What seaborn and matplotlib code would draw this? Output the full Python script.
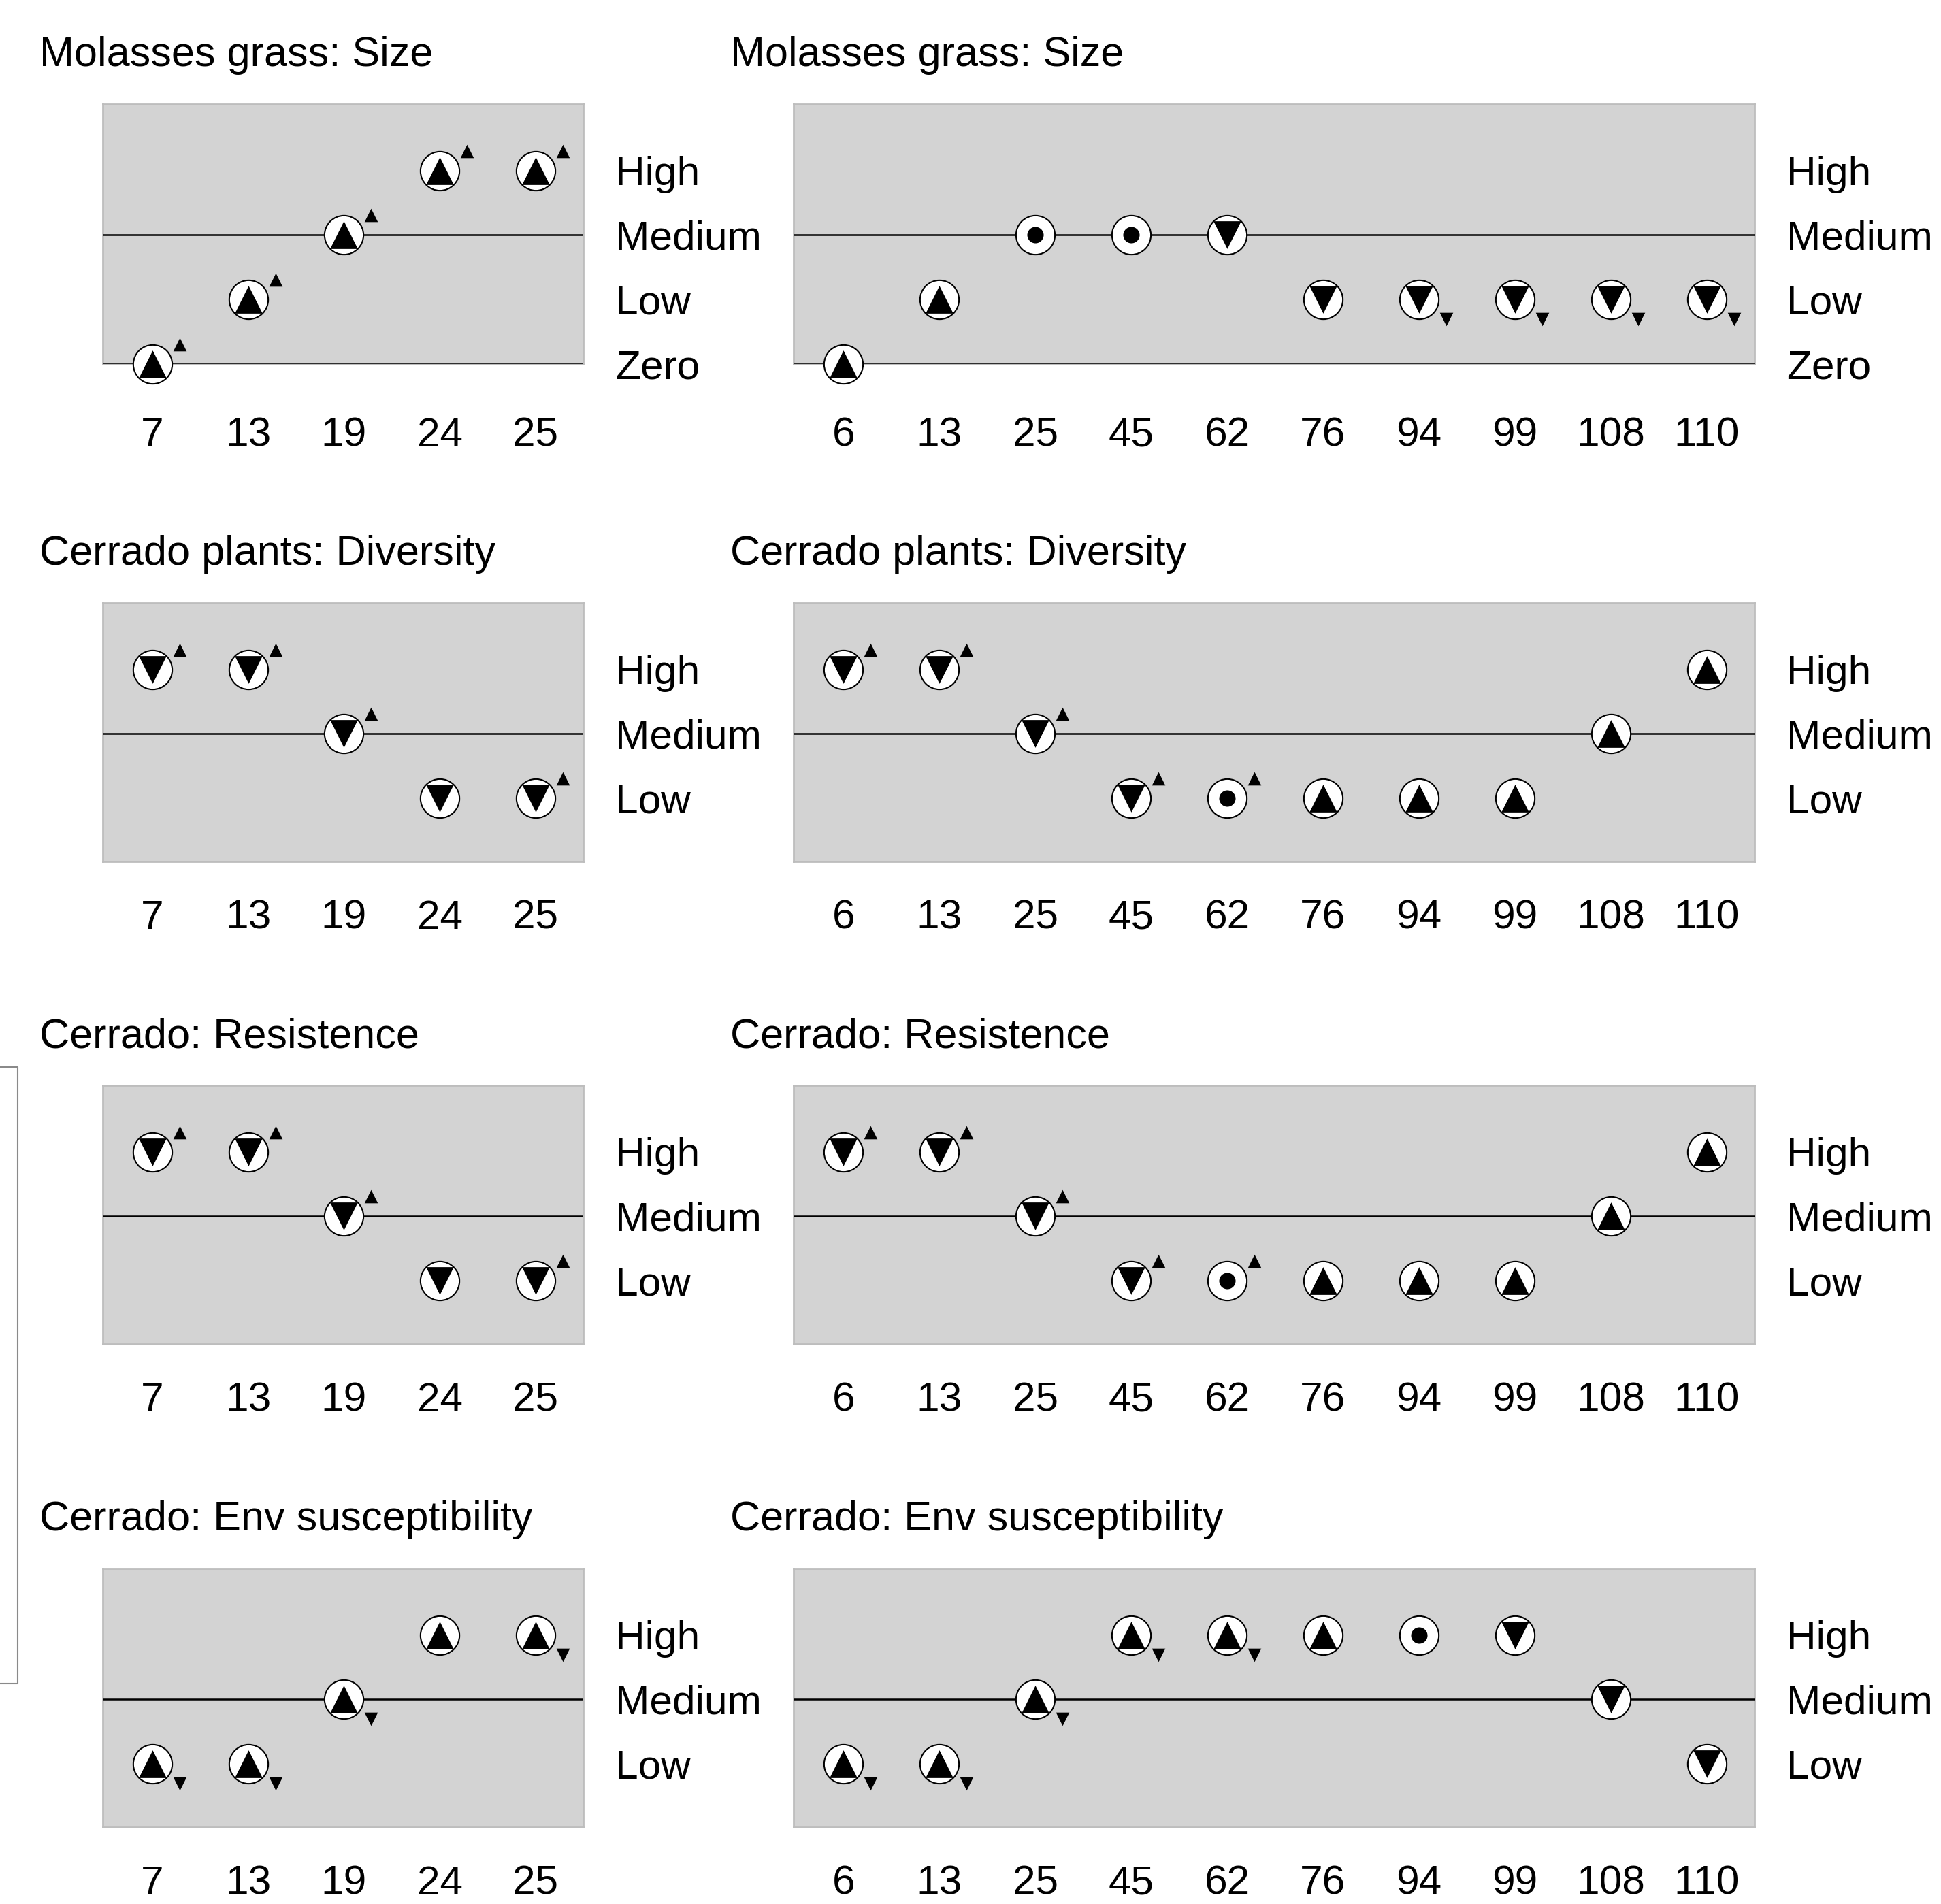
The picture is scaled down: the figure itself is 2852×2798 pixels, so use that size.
import numpy as np
import pandas as pd
import seaborn as sns
import matplotlib.pyplot as plt
from matplotlib.transforms import ScaledTranslation
from matplotlib.lines import Line2D

plt.rcParams['font.family'] = ['Liberation Sans', 'DejaVu Sans']

#Sites on the x axis
left_sites = ['7', '13', '19', '24', '25']
right_sites = ['6', '13', '25', '45', '62', '76', '94', '99', '108', '110']

level_names = ['Zero', 'Low', 'Medium', 'High']   # 0, 1, 2, 3

titles = ['Molasses grass: Size', 'Cerrado plants: Diversity',
          'Cerrado: Resistence', 'Cerrado: Env susceptibility']

#Molasses grass: Size
size_left_level = [0, 1, 2, 3, 3]
size_left_mark = ['up', 'up', 'up', 'up', 'up']
size_left_trend = ['up', 'up', 'up', 'up', 'up']
size_right_level = [0, 1, 2, 2, 2, 1, 1, 1, 1, 1]
size_right_mark = ['up', 'up', 'dot', 'dot', 'down', 'down', 'down', 'down', 'down', 'down']
size_right_trend = ['', '', '', '', '', '', 'down', 'down', 'down', 'down']

#Cerrado plants: Diversity
div_left_level = [3, 3, 2, 1, 1]
div_left_mark = ['down', 'down', 'down', 'down', 'down']
div_left_trend = ['up', 'up', 'up', '', 'up']
div_right_level = [3, 3, 2, 1, 1, 1, 1, 1, 2, 3]
div_right_mark = ['down', 'down', 'down', 'down', 'dot', 'up', 'up', 'up', 'up', 'up']
div_right_trend = ['up', 'up', 'up', 'up', 'up', '', '', '', '', '']

#Cerrado: Resistence
res_left_level = [3, 3, 2, 1, 1]
res_left_mark = ['down', 'down', 'down', 'down', 'down']
res_left_trend = ['up', 'up', 'up', '', 'up']
res_right_level = [3, 3, 2, 1, 1, 1, 1, 1, 2, 3]
res_right_mark = ['down', 'down', 'down', 'down', 'dot', 'up', 'up', 'up', 'up', 'up']
res_right_trend = ['up', 'up', 'up', 'up', 'up', '', '', '', '', '']

#Cerrado: Env susceptibility
env_left_level = [1, 1, 2, 3, 3]
env_left_mark = ['up', 'up', 'up', 'up', 'up']
env_left_trend = ['down', 'down', 'down', '', 'down']
env_right_level = [1, 1, 2, 3, 3, 3, 3, 3, 2, 1]
env_right_mark = ['up', 'up', 'up', 'up', 'up', 'up', 'dot', 'down', 'down', 'down']
env_right_trend = ['down', 'down', 'down', 'down', 'down', '', '', '', '', '']

rows = [
    (size_left_level, size_left_mark, size_left_trend, size_right_level, size_right_mark, size_right_trend),
    (div_left_level, div_left_mark, div_left_trend, div_right_level, div_right_mark, div_right_trend),
    (res_left_level, res_left_mark, res_left_trend, res_right_level, res_right_mark, res_right_trend),
    (env_left_level, env_left_mark, env_left_trend, env_right_level, env_right_mark, env_right_trend),
]

W, H = 2852, 2798
fig = plt.figure(figsize=(W / 100, H / 100), dpi=100)

#axes top / bottom in pixels for each row
row_px = [(153, 535), (886, 1266), (1595, 1975), (2305, 2685)]
col_px = [(151, 706), (1166, 1412)]
label_pad = [56, 40, 40, 40]


def draw_panel(ax, sites, level, mark, trend, first_row, pad):
    df = pd.DataFrame({'site': sites, 'level': level, 'mark': mark, 'trend': trend})
    #white circles
    sns.scatterplot(data=df, x='site', y='level', ax=ax, marker='o', s=1700,
                    color='white', edgecolor='black', linewidth=1.5,
                    zorder=5, clip_on=False, legend=False)
    #inner symbol
    for m, sym, size in [('up', '^', 860), ('down', 'v', 860), ('dot', 'o', 300)]:
        sub = df[df['mark'] == m]
        if len(sub):
            sns.scatterplot(data=sub, x='site', y='level', ax=ax, marker=sym, s=size,
                            color='black', linewidth=0, zorder=6, clip_on=False, legend=False)
    #small trend arrow next to the circle
    for t, sym, dy in [('up', '^', 0.29), ('down', 'v', -0.29)]:
        sub = df[df['trend'] == t]
        if len(sub):
            off = ax.transData + ScaledTranslation(0.40, dy, fig.dpi_scale_trans)
            sns.scatterplot(data=sub, x='site', y='level', ax=ax, marker=sym, s=200,
                            color='black', linewidth=0, zorder=6, clip_on=False,
                            legend=False, transform=off)
    ax.axhline(2, color='black', lw=1.8, zorder=3)
    if first_row:
        ax.axhline(0, color='black', lw=1.8, zorder=3)
        ax.set_ylim(0, 4.03)
        ax.set_yticks([0, 1, 2, 3], level_names)
    else:
        ax.set_ylim(0.02, 4.03)
        ax.set_yticks([1, 2, 3], level_names[1:])
    ax.set_xlim(-0.52, len(sites) - 0.5)
    ax.set_facecolor('#d3d3d3')
    for sp in ax.spines.values():
        sp.set_color('#bdbdbd')
        sp.set_linewidth(2)
    ax.yaxis.tick_right()
    ax.tick_params(axis='y', length=0, pad=34, labelsize=43.5)
    ax.tick_params(axis='x', length=0, pad=pad, labelsize=43.5)
    ax.set(xlabel='', ylabel='')


for i, (row, (top, bottom)) in enumerate(zip(rows, row_px)):
    for j, (x0, w) in enumerate(col_px):
        ax = fig.add_axes([x0 / W, 1 - bottom / H, w / W, (bottom - top) / H])
        sites = left_sites if j == 0 else right_sites
        level, mark, trend = row[3 * j:3 * j + 3]
        draw_panel(ax, sites, level, mark, trend, i == 0, label_pad[i])
        fig.text((58 if j == 0 else 1073) / W, 1 - (top - 56) / H, titles[i],
                 fontsize=44, va='baseline', ha='left')

#bracket at the left edge
bx, by0, by1 = 26 / W, 1 - 1568 / H, 1 - 2474 / H
fig.add_artist(Line2D([0, bx, bx, 0], [by0, by0, by1, by1], color='#8a8a8a', lw=1.5))

fig.savefig('out.png', dpi=100)
